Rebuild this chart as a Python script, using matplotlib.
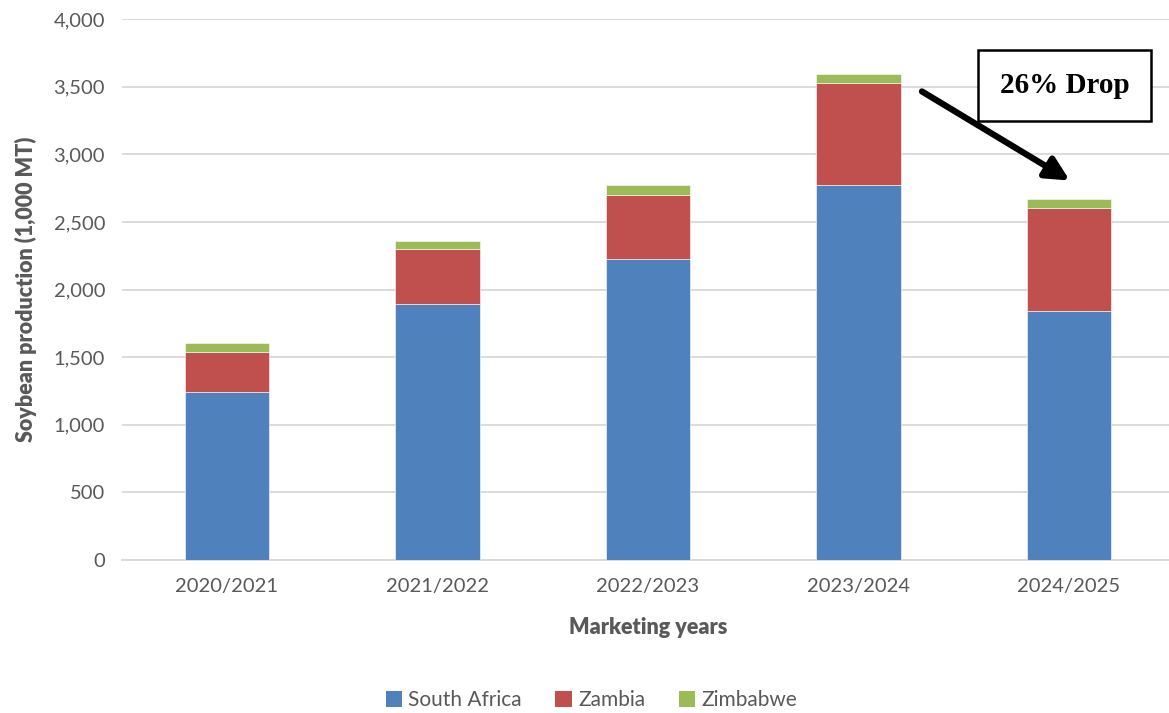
import numpy as np
import matplotlib.pyplot as plt
from matplotlib.patches import Patch

years = ['2020/2021', '2021/2022', '2022/2023', '2023/2024', '2024/2025']
south_africa = [1245, 1895, 2225, 2770, 1840]
zambia = [295, 407, 475, 760, 765]
zimbabwe = [62, 57, 72, 67, 62]

colors = ['#4f81bd', '#c0504d', '#9bbb59']
names = ['South Africa', 'Zambia', 'Zimbabwe']

plt.rcParams['font.family'] = ['Lato', 'DejaVu Sans']

fig = plt.figure(figsize=(11.69, 7.13), dpi=100)
ax = fig.add_axes([121.75 / 1169, 1 - 560 / 713, 1052.5 / 1169, 541 / 713])

x = np.arange(len(years))
bottom = np.zeros(len(years))
for vals, c in zip([south_africa, zambia, zimbabwe], colors):
    ax.bar(x, vals, width=0.4, bottom=bottom, color=c, edgecolor='white',
           linewidth=0.4, zorder=3)
    bottom += np.array(vals)

ax.set_xlim(-0.5, 4.5)
ax.set_ylim(0, 4000)
ax.set_yticks(np.arange(0, 4001, 500))
ax.yaxis.set_major_formatter(plt.FuncFormatter(lambda v, p: f'{int(v):,}'))
ax.set_xticks(x)
ax.set_xticklabels(years)
ax.grid(axis='y', color='#d9d9d9', linewidth=1.3, zorder=0)
for s in ['top', 'right', 'left']:
    ax.spines[s].set_visible(False)
ax.spines['bottom'].set_color('#d9d9d9')
ax.spines['bottom'].set_linewidth(1.3)
ax.tick_params(axis='both', length=0, colors='#595959', labelsize=14.5)
ax.tick_params(axis='x', pad=13)
ax.tick_params(axis='y', pad=12)

ax.set_xlabel('Marketing years', fontsize=15.5, fontweight='heavy', color='#595959', labelpad=16)
ax.set_ylabel('Soybean production (1,000 MT)', fontsize=15.5, fontweight='heavy', color='#595959', labelpad=12)

ax.annotate('', xy=(4.015, 2795), xytext=(3.29, 3475),
            arrowprops=dict(arrowstyle='-|>,head_length=1.4,head_width=0.7', color='black', lw=4.5))
ax.text(3.98, 3508, '26% Drop', fontsize=21, fontweight='bold', family='Liberation Serif',
        ha='center', va='center', zorder=5,
        bbox=dict(boxstyle='square,pad=0.75', facecolor='white', edgecolor='black', linewidth=1.8))

handles = [Patch(facecolor=c, label=n) for c, n in zip(colors, names)]
fig.legend(handles=handles, loc='center', bbox_to_anchor=(0.506, 1 - 700 / 713), ncol=3,
           frameon=False, fontsize=15, handlelength=0.8, handleheight=0.8,
           handletextpad=0.3, columnspacing=1.6, labelcolor='#595959')

fig.savefig('out.png', dpi=100)
